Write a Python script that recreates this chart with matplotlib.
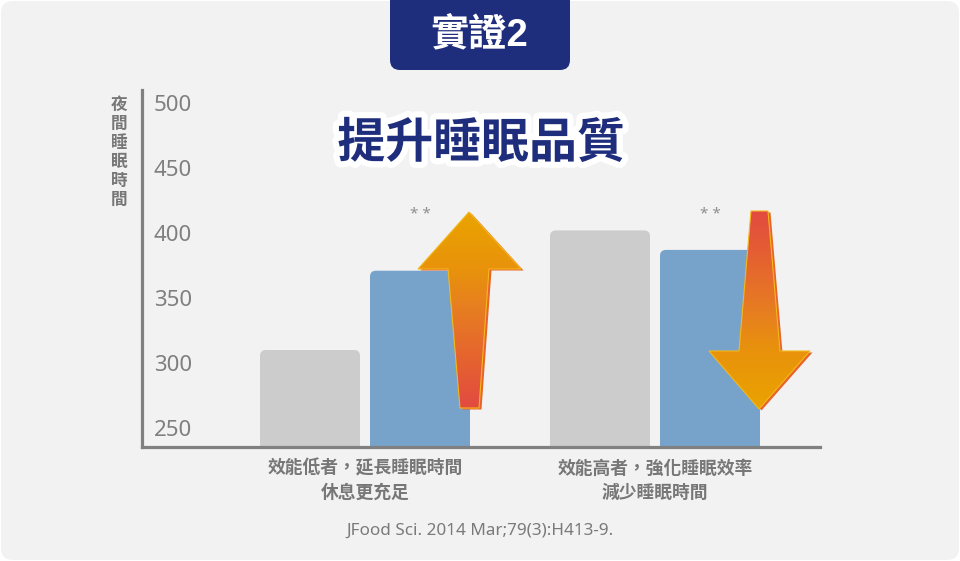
import numpy as np
import matplotlib
matplotlib.use('Agg')
import matplotlib.pyplot as plt
from matplotlib.patches import FancyBboxPatch, Polygon
from matplotlib.colors import LinearSegmentedColormap
import matplotlib.patheffects as pe

# ---------------- data ----------------
groups = ['效能低者，延長睡眠時間\n休息更充足', '效能高者，強化睡眠效率\n減少睡眠時間']
gray_vals = [310, 402]
blue_vals = [371, 387]
yticks = [250, 300, 350, 400, 450, 500]
ylabel_text = '夜間睡眠時間'
title_text = '提升睡眠品質'
badge_text = '實證2'
citation = 'JFood Sci. 2014 Mar;79(3):H413-9.'
sig_marks = ['* *', '* *']

CJK = ['Noto Sans CJK TC', 'DejaVu Sans']
LAT = ['Noto Sans', 'DejaVu Sans']
plt.rcParams['font.family'] = CJK

W, H = 960, 561
fig = plt.figure(figsize=(9.6, 5.61), dpi=100)
fig.patch.set_facecolor('white')

# background card
bg = fig.add_axes([0, 0, 1, 1], zorder=0)
bg.set_xlim(0, W); bg.set_ylim(H, 0); bg.axis('off')
bg.add_patch(FancyBboxPatch((1, 1), W - 2, H - 2,
                            boxstyle='round,pad=0,rounding_size=12',
                            fc='#f2f2f2', ec='none'))

# ---------------- main axes ----------------
L, R, T, B = 141.5, 820, 90, 447
ax = fig.add_axes([L / W, 1 - B / H, (R - L) / W, (B - T) / H], zorder=1)
ax.patch.set_visible(False)
ymin, ymax = 235.4, 510
ax.set_xlim(-0.7707, 1.569)
ax.set_ylim(ymin, ymax)
for s in ['top', 'right']:
    ax.spines[s].set_visible(False)
for s in ['left', 'bottom']:
    ax.spines[s].set_color('#808080')
    ax.spines[s].set_linewidth(2.3)
    ax.spines[s].set_zorder(5)

ax.set_yticks(yticks)
ax.set_yticklabels([str(v) for v in yticks], family=LAT, fontsize=16, color='#7f7f7f')
ax.tick_params(axis='y', length=0, pad=-9)
for t in ax.get_yticklabels():
    t.set_horizontalalignment('left')

x = np.arange(len(groups))
ax.set_xticks(x)
ax.set_xticklabels(groups, fontsize=12.8, fontweight='bold', color='#777777', linespacing=1.45)
ax.tick_params(axis='x', length=0, pad=9)

bw = 100 / 290
off = 55 / 290
base = 200
px_per_x = 290.0
px_per_y = (B - T) / (ymax - ymin)
aspect = px_per_x / px_per_y
rs = 6 / px_per_x

def rounded(bars, color):
    for rect in bars:
        rect.set_visible(False)
        bx, by = rect.get_x(), rect.get_y()
        bwid, bh = rect.get_width(), rect.get_height()
        ax.add_patch(FancyBboxPatch((bx, by), bwid, bh,
                                    boxstyle=f'round,pad=0,rounding_size={rs}',
                                    mutation_aspect=aspect, fc=color, ec='none',
                                    zorder=2))

bg_bars = ax.bar(x - off, np.array(gray_vals) - base, bw, bottom=base)
bl_bars = ax.bar(x + off, np.array(blue_vals) - base, bw, bottom=base)
rounded(bg_bars, '#cccccc')
rounded(bl_bars, '#77a3cb')

for xi, m in zip(x + off, sig_marks):
    ax.text(xi, 414, m, ha='center', va='center', fontsize=11,
            color='#8f8f8f', family=LAT)

ax.set_ylim(ymin, ymax)

# ---------------- overlay (decorations) ----------------
ov = fig.add_axes([0, 0, 1, 1], zorder=3)
ov.set_xlim(0, W); ov.set_ylim(H, 0); ov.axis('off')

# badge
ov.add_patch(FancyBboxPatch((390, -30), 180, 100,
                            boxstyle='round,pad=0,rounding_size=10',
                            fc='#1f2e7c', ec='none'))
ov.text(479, 36, badge_text, ha='center', va='center', color='white',
        fontsize=27.5, fontweight='bold',
        family=['Liberation Sans', 'Noto Sans CJK TC', 'DejaVu Sans'])

# title
ov.text(481, 143, title_text, ha='center', va='center', color='#1f2e7c',
        fontsize=34.5, fontweight=900,
        path_effects=[pe.withStroke(linewidth=9, foreground='white')])

# y label (stacked characters)
ov.text(119, 96, '\n'.join(ylabel_text), ha='center', va='top',
        color='#777777', fontsize=12, fontweight='bold', linespacing=1.07)

# citation
ov.text(480, 531, citation, ha='center', va='center', color='#7a7a7a',
        fontsize=12.3, family=LAT)

# arrows
up_cmap = LinearSegmentedColormap.from_list(
    'up', [(0.0, '#eaa300'), (0.3, '#e8920c'), (0.5, '#e77d22'),
           (0.75, '#e5632f'), (1.0, '#e24a40')])
dn_cmap = LinearSegmentedColormap.from_list(
    'dn', [(0.0, '#e24a40'), (0.25, '#e5632f'), (0.5, '#e77d22'),
           (0.7, '#e8920c'), (1.0, '#eaa300')])

def arrow(pts, cmap):
    pts = np.array(pts, float)
    sh = Polygon(pts + np.array([2.5, 1.5]), closed=True, fc='#e8652a', ec='none', zorder=1)
    ov.add_patch(sh)
    poly = Polygon(pts, closed=True, fc='none', ec='#f4b81c', lw=0.8, zorder=3)
    ov.add_patch(poly)
    x0, x1 = pts[:, 0].min(), pts[:, 0].max()
    y0, y1 = pts[:, 1].min(), pts[:, 1].max()
    grad = np.linspace(0, 1, 256).reshape(-1, 1)
    im = ov.imshow(grad, cmap=cmap, extent=(x0, x1, y1, y0), aspect='auto',
                   origin='upper', zorder=2, interpolation='bilinear')
    im.set_clip_path(poly)

up_pts = [(469, 212), (521, 269), (489, 269), (479, 408), (460, 408), (448, 269), (418, 269)]
dn_pts = [(751, 211), (768, 211), (780, 351), (810, 351), (759, 409), (709, 351), (739, 351)]
arrow(up_pts, up_cmap)
arrow(dn_pts, dn_cmap)
ov.set_xlim(0, W); ov.set_ylim(H, 0)

fig.savefig('out.png', dpi=100, facecolor='white')
